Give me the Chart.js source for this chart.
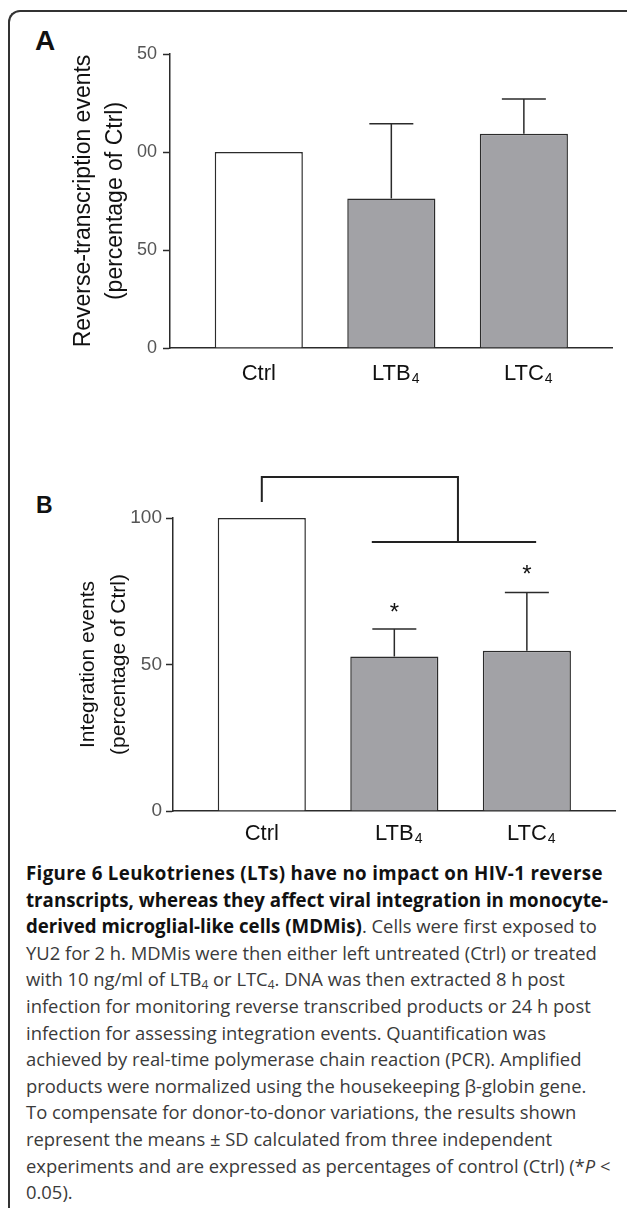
<!DOCTYPE html>
<html>
<head>
<meta charset="utf-8">
<script src="https://cdn.jsdelivr.net/npm/chart.js"></script>
<style>
html, body { margin: 0; padding: 0; background: #fff; width: 627px; height: 1208px; overflow: hidden; position: relative; }
#frame { position: absolute; left: 8px; top: 10px; width: 700px; height: 1300px; border-left: 2px solid #333; border-top: 2px solid #333; border-top-left-radius: 12px; }
.panel { position: absolute; font-family: 'Liberation Sans', Arial, sans-serif; font-weight: bold; color: #111; }
#capt { position: absolute; left: 26px; top: 860px; font-family: 'Open Sans', sans-serif; font-size: 18.4px; line-height: 26.6px; color: #3a3a3a; white-space: nowrap; }
#capt b { color: #111; font-size: 18.7px; }
#capt sub { font-size: 0.65em; line-height: 0; vertical-align: -0.25em; }
canvas { position: absolute; left: 0; }
</style>
</head>
<body>
<div id="frame"></div>
<div class="panel" style="left:35px; top:27px; font-size:28px; line-height:28px;">A</div>
<div class="panel" style="left:36px; top:494px; font-size:23px; line-height:23px;">B</div>
<canvas id="chartA" width="627" height="400" style="top:0"></canvas>
<canvas id="chartB" width="627" height="440" style="top:420px"></canvas>
<div id="capt">
<b style="letter-spacing:0.35px">Figure 6 Leukotrienes (LTs) have no impact on HIV-1 reverse</b><br>
<b>transcripts, whereas they affect viral integration in monocyte-</b><br>
<b>derived microglial-like cells (MDMis)</b>. Cells were first exposed to<br>
YU2 for 2 h. MDMis were then either left untreated (Ctrl) or treated<br>
with 10 ng/ml of LTB<sub>4</sub> or LTC<sub>4</sub>. DNA was then extracted 8 h post<br>
infection for monitoring reverse transcribed products or 24 h post<br>
infection for assessing integration events. Quantification was<br>
achieved by real-time polymerase chain reaction (PCR). Amplified<br>
products were normalized using the housekeeping β-globin gene.<br>
To compensate for donor-to-donor variations, the results shown<br>
represent the means ± SD calculated from three independent<br>
experiments and are expressed as percentages of control (Ctrl) (*<i>P</i> &lt;<br>
0.05).
</div>

<script>
// categories (x positions are the category indices)
const categoryNames = ['Ctrl', 'LTB', 'LTC'];
const categorySubs = ['', '4', '4'];
const categoryPos = [0, 1, 2];
const barFill = ['#ffffff', '#a2a2a6', '#a2a2a6'];

// panel A: reverse-transcription events
const rtMeans = [100, 76.3, 109.3];
const rtSD = [0, 38.1, 17.8];
const rtTicks = [0, 50, 100, 150];
const rtTickLabels = ['0', '50', '00', '50'];

// panel B: integration events
const intMeans = [100, 52.7, 54.7];
const intSD = [0, 9.4, 19.9];
const intTicks = [0, 50, 100];
const intTickLabels = ['0', '50', '100'];
const intStars = [null, 70, 82.8];
const bracketUpperX = [0, 0, 1.48, 1.48];
const bracketUpperY = [105.5, 114, 114, 91.8];
const bracketLowerX = [0.83, 2.07];
const bracketLowerY = [91.8, 91.8];

const FONT = "'Liberation Sans', Arial, sans-serif";
Chart.defaults.font.family = FONT;

const errorBars = {
  id: 'errorBars',
  afterDatasetsDraw(chart, args, opts) {
    const { ctx, scales: { y } } = chart;
    const meta = chart.getDatasetMeta(0);
    ctx.save();
    ctx.strokeStyle = '#2b2b2b';
    ctx.lineWidth = 1.5;
    opts.sd.forEach((sd, i) => {
      if (!sd) return;
      const bar = meta.data[i];
      const top = y.getPixelForValue(opts.means[i] + sd);
      ctx.beginPath();
      ctx.moveTo(bar.x, bar.y);
      ctx.lineTo(bar.x, top);
      ctx.moveTo(bar.x - 22, top);
      ctx.lineTo(bar.x + 22, top);
      ctx.stroke();
    });
    ctx.restore();
  }
};

// category labels with subscripts, placed from the x scale
const catLabels = {
  id: 'catLabels',
  afterDraw(chart, args, opts) {
    const { ctx, chartArea, scales: { x } } = chart;
    ctx.save();
    ctx.fillStyle = '#111';
    categoryPos.forEach((p, i) => {
      const cx = x.getPixelForValue(p);
      const cy = chartArea.bottom + opts.offset;
      ctx.font = '22px ' + FONT;
      ctx.textBaseline = 'middle';
      ctx.textAlign = 'center';
      ctx.fillText(categoryNames[i], cx, cy);
      if (categorySubs[i]) {
        const w = ctx.measureText(categoryNames[i]).width;
        ctx.font = '14px ' + FONT;
        ctx.textAlign = 'left';
        ctx.fillText(categorySubs[i], cx + w / 2 + 1, cy + 6);
      }
    });
    ctx.restore();
  }
};

const marks = {
  id: 'marks',
  afterDraw(chart, args, opts) {
    if (!opts.stars) return;
    const { ctx, scales: { x, y } } = chart;
    ctx.save();
    ctx.fillStyle = '#111';
    ctx.font = '24px ' + FONT;
    ctx.textAlign = 'center';
    ctx.textBaseline = 'alphabetic';
    opts.stars.forEach((v, i) => {
      if (v == null) return;
      ctx.fillText('*', x.getPixelForValue(categoryPos[i]), y.getPixelForValue(v) + 14);
    });
    ctx.strokeStyle = '#222';
    ctx.lineWidth = 2;
    [[bracketUpperX, bracketUpperY], [bracketLowerX, bracketLowerY]].forEach(([xs, ys]) => {
      ctx.beginPath();
      xs.forEach((xv, k) => {
        const px = x.getPixelForValue(xv), py = y.getPixelForValue(ys[k]);
        if (k === 0) ctx.moveTo(px, py); else ctx.lineTo(px, py);
      });
      ctx.stroke();
    });
    ctx.restore();
  }
};

function makeChart(id, o) {
  return new Chart(document.getElementById(id), {
    type: 'bar',
    data: {
      datasets: [{
        data: o.means.map((v, i) => ({ x: categoryPos[i], y: v })),
        backgroundColor: barFill,
        borderColor: '#2b2b2b',
        borderWidth: 1.5,
        categoryPercentage: 1,
        barPercentage: 0.665
      }]
    },
    options: {
      responsive: false,
      animation: false,
      layout: { padding: o.padding },
      plugins: {
        legend: { display: false },
        tooltip: { enabled: false },
        errorBars: { means: o.means, sd: o.sd },
        catLabels: { offset: o.labelOffset },
        marks: { stars: o.stars || null }
      },
      scales: {
        x: {
          type: 'linear',
          offset: false,
          min: -0.67,
          max: 2.665,
          afterBuildTicks: s => { s.ticks = categoryPos.map(v => ({ value: v })); },
          afterFit: s => { s.height = 0; },
          ticks: { display: false },
          grid: { display: false, offset: false },
          border: { color: '#2b2b2b', width: 1.5 }
        },
        y: {
          min: 0,
          max: o.max,
          afterBuildTicks: s => { s.ticks = o.ticks.map(v => ({ value: v })); },
          afterFit: s => { s.width = o.axisLeft; },
          ticks: {
            callback: v => o.tickLabels[o.ticks.indexOf(v)],
            color: '#555',
            font: { size: o.tickSize },
            padding: o.tickPad
          },
          grid: { drawOnChartArea: false, tickLength: 7, tickColor: '#2b2b2b', tickWidth: 1.5 },
          border: { color: '#2b2b2b', width: 1.5 },
          title: {
            display: true,
            text: o.title,
            color: '#111',
            font: { size: o.titleSize, lineHeight: o.titleLH },
            padding: { top: o.titlePad, bottom: 0 }
          }
        }
      }
    },
    plugins: [errorBars, catLabels, marks]
  });
}

makeChart('chartA', {
  means: rtMeans, sd: rtSD, max: 150, ticks: rtTicks, tickLabels: rtTickLabels,
  padding: { top: 54, right: 15, bottom: 52, left: 0 },
  axisLeft: 170, tickSize: 18, tickPad: 6, labelOffset: 25.5,
  title: ['Reverse-transcription events', '(percentage of Ctrl)'],
  titleSize: 23, titleLH: 1.39, titlePad: 68
});

makeChart('chartB', {
  means: intMeans, sd: intSD, max: 100, ticks: intTicks, tickLabels: intTickLabels,
  padding: { top: 98, right: 12, bottom: 49, left: 0 },
  axisLeft: 173, tickSize: 19, tickPad: 4, labelOffset: 22.5,
  title: ['Integration events', '(percentage of Ctrl)'],
  titleSize: 21, titleLH: 1.476, titlePad: 72.5,
  stars: intStars
});
</script>
</body>
</html>
